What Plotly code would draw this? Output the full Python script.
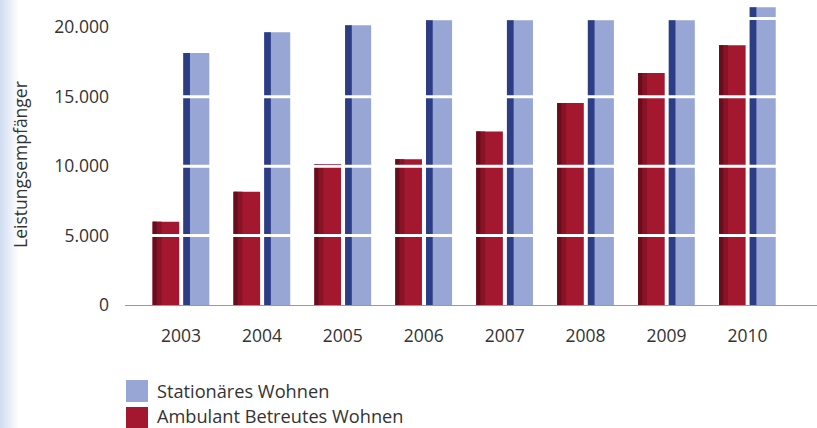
import plotly.graph_objects as go

# Leistungsempfänger nach Wohnform, 2003-2010
years = ["2003", "2004", "2005", "2006", "2007", "2008", "2009", "2010"]
stationaer = [18150, 19650, 20150, 20500, 20500, 20500, 20500, 21450]
ambulant = [6000, 8150, 10150, 10500, 12500, 14550, 16700, 18700]
tick_values = [0, 5000, 10000, 15000, 20000]
tick_labels = ["0", "5.000", "10.000", "15.000", "20.000"]
series_names = ["Stationäres Wohnen", "Ambulant Betreutes Wohnen"]

W, H = 817, 428
M_L, M_R, M_T, M_B = 125, 0, 0, 123
PLOT_W = W - M_L - M_R
PLOT_H = H - M_T - M_B
Y_MAX = 21965

BLUE = "#97a6d4"
NAVY = "#2c3d86"
RED = "#a3182f"
RED_MID = "#881327"
RED_DARK = "#690d1c"
TEXT = "#333333"
FONT = "Open Sans"


def px_x(x):
    return (x - M_L) / PLOT_W


def px_y(y):
    return (H - M_B - y) / PLOT_H


fig = go.Figure()

# Ambulant bars with a darker shaded left side
fig.add_bar(x=years, y=ambulant, offset=-0.35, width=0.328,
            marker=dict(color=RED, line=dict(width=0)), showlegend=False,
            hoverinfo="skip")
fig.add_bar(x=years, y=ambulant, offset=-0.35, width=0.11,
            marker=dict(color=RED_MID, line=dict(width=0)), showlegend=False,
            hoverinfo="skip")
fig.add_bar(x=years, y=ambulant, offset=-0.35, width=0.05,
            marker=dict(color=RED_DARK, line=dict(width=0)), showlegend=False,
            hoverinfo="skip")

# Stationär bars with a navy side face
fig.add_bar(x=years, y=stationaer, offset=0.028, width=0.322,
            marker=dict(color=BLUE, line=dict(width=0)), showlegend=False,
            hoverinfo="skip")
fig.add_bar(x=years, y=stationaer, offset=0.028, width=0.083,
            marker=dict(color=NAVY, line=dict(width=0)), showlegend=False,
            hoverinfo="skip")

shapes = []
# white grid lines cutting through the bars
for v in [5000, 10000, 15000, 20630]:
    shapes.append(dict(type="line", xref="paper", yref="y", x0=0, x1=1,
                       y0=v, y1=v, line=dict(color="white", width=3),
                       layer="above"))

# light blue fade along the left edge
for i in range(9):
    shapes.append(dict(type="rect", xref="paper", yref="paper",
                       x0=px_x(i * 2), x1=px_x(i * 2 + 2),
                       y0=px_y(H), y1=px_y(0),
                       fillcolor="#c9d8f0", opacity=0.85 * (1 - i / 9),
                       line=dict(width=0), layer="below"))

# legend boxes
legend_colors = [BLUE, RED]
annotations = []
for i, (name, col) in enumerate(zip(series_names, legend_colors)):
    top = 380 + i * 27
    shapes.append(dict(type="rect", xref="paper", yref="paper",
                       x0=px_x(126), x1=px_x(148),
                       y0=px_y(top + 22), y1=px_y(top),
                       fillcolor=col, line=dict(width=0)))
    annotations.append(dict(text=name, xref="paper", yref="paper",
                            x=px_x(156), y=px_y(top + 10.5 - 1.5 * i),
                            xanchor="left", yanchor="middle", showarrow=False,
                            borderpad=0,
                            font=dict(family=FONT, size=18.2, color=TEXT)))

annotations.append(dict(text="Leistungsempfänger", xref="paper", yref="paper",
                        x=px_x(20), y=px_y(165), textangle=-90,
                        xanchor="center", yanchor="middle", showarrow=False,
                        font=dict(family=FONT, size=17.5, color=TEXT)))

fig.update_layout(
    width=W, height=H,
    margin=dict(l=M_L, r=M_R, t=M_T, b=M_B, pad=0),
    paper_bgcolor="white", plot_bgcolor="white",
    barmode="overlay",
    showlegend=False,
    shapes=shapes,
    annotations=annotations,
    font=dict(family=FONT, color=TEXT),
)
fig.update_xaxes(type="category", range=[-0.692, 7.86], showgrid=False,
                 zeroline=False, showline=True, linecolor="#9a9a9a",
                 linewidth=1, ticks="", ticklabelstandoff=15,
                 tickfont=dict(family=FONT, size=17.5, color=TEXT))
fig.update_yaxes(range=[0, Y_MAX], tickvals=tick_values, ticktext=tick_labels,
                 showgrid=False, zeroline=False, showline=False, ticks="",
                 ticklabelstandoff=15,
                 tickfont=dict(family=FONT, size=17.5, color=TEXT))

fig.write_html("out.html")
